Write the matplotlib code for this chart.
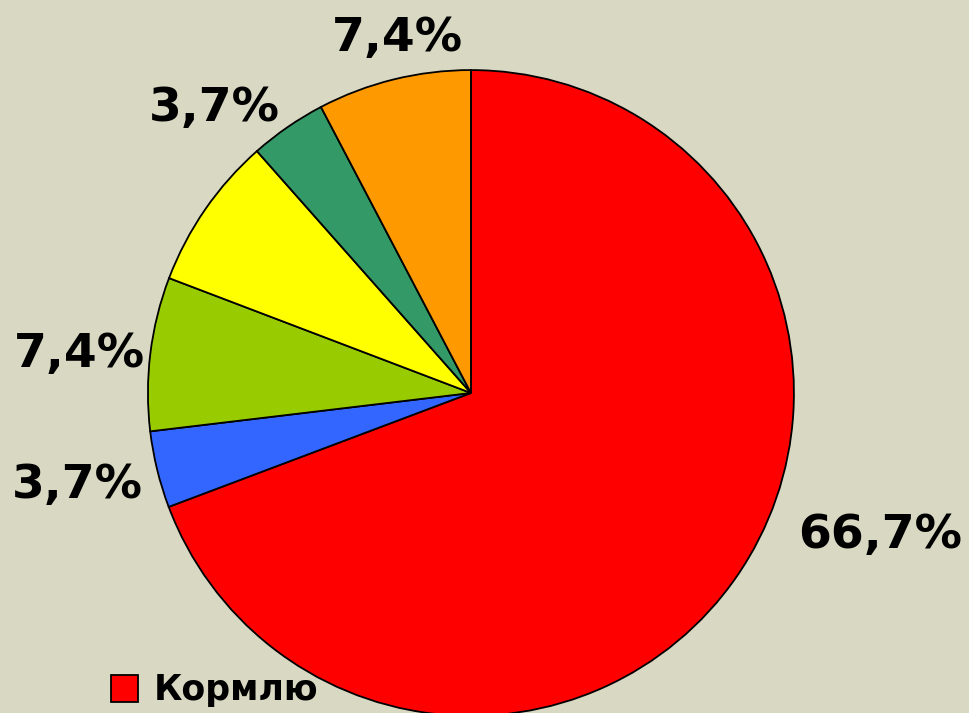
import matplotlib.pyplot as plt

# slice shares (clockwise from the top), labels as shown on the chart
shares = [66.7, 3.7, 7.4, 7.4, 3.7, 7.4]
labels = ['66,7%', '3,7%', '7,4%', '', '3,7%', '7,4%']
colors = ['#ff0000', '#3366ff', '#99cc00', '#ffff00', '#339966', '#ff9900']
legend_names = ['Кормлю']

# where each label sits (pie radius = 1)
label_pos = [(1.266, -0.44), (-1.217, -0.285), (-1.211, 0.118), (0, 0),
             (-0.793, 0.882), (-0.229, 1.099)]

bg = '#d9d8c3'
fig = plt.figure(figsize=(9.69, 7.13), dpi=100, facecolor=bg)
ax = fig.add_axes([0, 0, 1, 1])
ax.set_facecolor(bg)

wedges, texts = ax.pie(shares, labels=labels, colors=colors, startangle=90,
                       counterclock=False, radius=1,
                       wedgeprops=dict(edgecolor='black', linewidth=1.3),
                       textprops=dict(fontsize=34, fontweight='bold', color='black'))
for t, p in zip(texts, label_pos):
    t.set_position(p)
    t.set_ha('center')
    t.set_va('center')

ax.set_xlim(-1.458, 1.542)
ax.set_ylim(-0.991, 1.217)
ax.set_aspect('auto')
ax.axis('off')

leg = fig.legend([wedges[0]], legend_names, loc='lower left',
                 bbox_to_anchor=(0.082, -0.036), frameon=False,
                 prop=dict(size=25, weight='bold'), handlelength=0.8,
                 handleheight=0.8, handletextpad=0.45)

fig.savefig('out.png', dpi=100, facecolor=bg)
